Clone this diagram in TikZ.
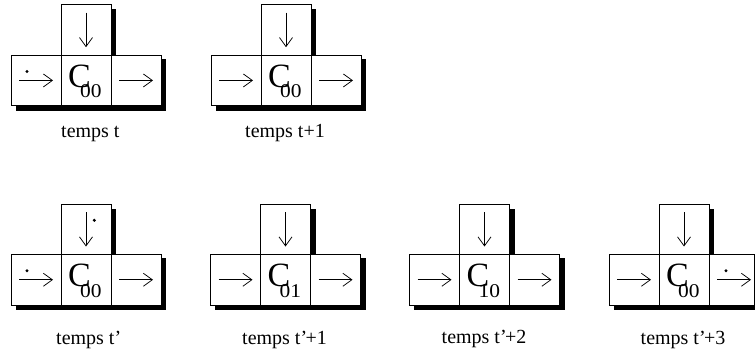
\documentclass[tikz,border=0pt]{standalone}
\usepackage{fontspec}
\setmainfont{Liberation Serif}
\usepackage{graphicx}
\usetikzlibrary{arrows.meta}
\tikzset{
  cellbox/.style={draw=black, line width=0.9pt, fill=white, minimum height=50.5pt,
    inner sep=0pt, outer sep=0pt, anchor=north west},
  shadowfill/.style={fill=black},
  arrowline/.style={line width=0.75pt, -{Straight Barb[length=9pt,width=13pt,line width=0.75pt]}},
  cletter/.style={font=\fontsize{34}{34}\selectfont, inner sep=0pt, anchor=base},
  csub/.style={font=\fontsize{19.5}{19.5}\selectfont, inner sep=0pt, anchor=base west},
  lab/.style={font=\fontsize{20}{20}\selectfont, inner sep=0pt, anchor=base west},
  dotn/.style={circle, fill=black, inner sep=0pt, minimum size=3.4pt}
}
% #1 name, #2 left x, #3 top y, #4 subscript, #5 right cell width
\newcommand\celldiagram[5]{%
  \fill[shadowfill] ({#2+54.5},{#3+4.5}) rectangle ({#2+105},{#3+54});
  \fill[shadowfill] ({#2+4.5},{#3+54}) rectangle ({#2+105+#5},{#3+106});
  \node[cellbox, minimum width=50pt] (#1T) at ({#2+50},{#3}) {};
  \node[cellbox, minimum width=50pt] (#1L) at ({#2},{#3+50.5}) {};
  \node[cellbox, minimum width=50pt] (#1M) at ({#2+50},{#3+50.5}) {};
  \node[cellbox, minimum width=#5pt] (#1R) at ({#2+100},{#3+50.5}) {};
  \draw[arrowline] ([yshift=-8pt]#1T.north) -- ([yshift=8pt]#1T.south);
  \draw[arrowline] ([xshift=8pt]#1L.west) -- ([xshift=42pt]#1L.west);
  \draw[arrowline] ([xshift=8pt]#1R.west) -- ([xshift=42pt]#1R.west);
  \node[cletter] (#1C) at ([xshift=-6.5pt,yshift=-7pt]#1M.center) {C};
  \node[csub] (#1S) at ([xshift=-6pt,yshift=-17.5pt]#1M.center) {\scalebox{1.1}[1]{#4}};
}
\begin{document}
\begin{tikzpicture}[x=1pt,y=-1pt]
  \useasboundingbox (0,0) rectangle (755,357);
  \fill[white] (0,0) rectangle (755,357);
  % row 1
  \celldiagram{a}{11}{4.7}{00}{50}
  \celldiagram{b}{211}{4.7}{00}{50}
  % row 2
  \celldiagram{c}{11}{204}{00}{50}
  \celldiagram{d}{210.5}{204}{01}{50}
  \celldiagram{e}{409.5}{204}{10}{50}
  \celldiagram{f}{609}{204}{00}{45.5}
  % dots
  \node[dotn] (adot) at ([xshift=-9pt,yshift=9pt]aL.center) {};
  \node[dotn] (cdot1) at ([xshift=-9pt,yshift=9pt]cL.center) {};
  \node[dotn] (cdot2) at ([xshift=8.3pt,yshift=9pt]cT.center) {};
  \node[dotn] (fdot) at ([xshift=17pt,yshift=9pt]fR.west) {};
  % labels
  \node[lab] (alab) at (61,137.5) {temps t};
  \node[lab] (blab) at (245,137.5) {temps t+1};
  \node[lab] (clab) at (56,344) {temps t’};
  \node[lab] (dlab) at (242,344) {temps t’\kern-1.5pt+1};
  \node[lab] (elab) at (441.5,343) {temps t’\kern-1.5pt+2};
  \node[lab] (flab) at (640.5,344) {temps t’\kern-1.5pt+3};
\end{tikzpicture}
\end{document}
